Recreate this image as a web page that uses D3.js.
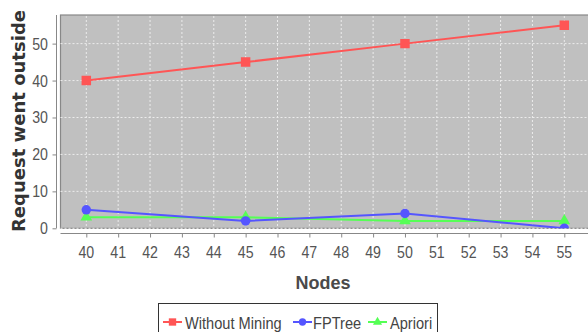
<!DOCTYPE html>
<html>
<head>
  <meta charset="utf-8">
  <title>Request went outside</title>
  <script src="https://d3js.org/d3.v7.min.js"></script>
  <style>
  body { margin: 0; background: white; }
  svg { display: block; }
  </style>
</head>
<body>
  <div id='container'></div>
  <script>

  var nodes = [40, 45, 50, 55]
  var withoutMining = [40, 45, 50, 55]
  var fpTree = [5, 2, 4, 0]
  var apriori = [3, 3, 2, 2]
  var xTicks = d3.range(40, 56)
  var yTicks = [0, 10, 20, 30, 40, 50]
  var seriesNames = ['Without Mining', 'FPTree', 'Apriori']

  const width = 588
  const height = 332

  // plot box (runs off the right edge like the reference)
  const plotLeft = 60.5, plotTop = 15, plotBottom = 228.3, plotRight = 600

  var svg = d3.select('#container')
    .append('svg')
    .attr('width', width)
    .attr('height', height)

  var x = d3.scaleLinear().domain([40, 55]).range([86.3, 564.3])
  var y = d3.scaleLinear().domain([0, 57.75]).range([plotBottom, plotTop])

  var series = [
    {name: seriesNames[0], values: withoutMining, color: '#ff5555', shape: d3.symbolSquare, size: 90},
    {name: seriesNames[1], values: fpTree, color: '#5555ff', shape: d3.symbolCircle, size: 70},
    {name: seriesNames[2], values: apriori, color: '#55ff55', shape: d3.symbolTriangle, size: 60}
  ]

  // squashed text helper, the picture is narrower than the fonts
  function label(parent, tx, ty, str, opts){
    var g = parent.append('g').attr('transform', 'translate(' + tx + ',' + ty + ')')
    return g.append('text')
      .attr('transform', 'scale(' + (opts.sx || 1) + ',1)')
      .attr('text-anchor', opts.anchor || 'start')
      .style('font-family', opts.font || 'Liberation Sans, Arial, sans-serif')
      .style('font-size', opts.size + 'px')
      .style('font-weight', opts.weight || 'normal')
      .style('fill', opts.color || '#555')
      .text(str)
  }

  // plot background
  svg.append('rect')
    .attr('x', plotLeft).attr('y', plotTop)
    .attr('width', plotRight - plotLeft).attr('height', plotBottom - plotTop)
    .style('fill', '#c0c0c0')
    .style('stroke', '#888')
    .style('stroke-width', 1.2)

  var clip = svg.append('clipPath').attr('id', 'plotClip')
    .append('rect')
    .attr('x', plotLeft).attr('y', plotTop)
    .attr('width', plotRight - plotLeft).attr('height', plotBottom - plotTop)

  // grid
  svg.append('g').selectAll('line')
    .data(xTicks)
    .enter().append('line')
    .attr('x1', (d) => x(d)).attr('x2', (d) => x(d))
    .attr('y1', plotTop + 1).attr('y2', plotBottom)
    .style('stroke', '#ececec')
    .style('stroke-width', 1)
    .style('stroke-dasharray', '2,2')

  svg.append('g').selectAll('line')
    .data(yTicks)
    .enter().append('line')
    .attr('x1', plotLeft).attr('x2', plotRight)
    .attr('y1', (d) => y(d)).attr('y2', (d) => y(d))
    .style('stroke', '#ececec')
    .style('stroke-width', 1)
    .style('stroke-dasharray', '2,2')

  // axes, offset from the plot like JFreeChart
  var xAxis = d3.axisBottom(x).tickValues(xTicks).tickSize(4).tickFormat('')
  var yAxis = d3.axisLeft(y).tickValues(yTicks).tickSize(4).tickFormat('')

  var gx = svg.append('g').attr('transform', 'translate(0,233.5)').call(xAxis)
  gx.select('.domain').attr('d', 'M' + plotLeft + ',0H' + plotRight)
  var gy = svg.append('g').attr('transform', 'translate(56.5,0)').call(yAxis)
  gy.select('.domain').attr('d', 'M0,' + plotTop + 'V' + plotBottom)
  svg.selectAll('.domain, .tick line').style('stroke', '#888')

  xTicks.forEach(function(t){
    label(svg, x(t), 258, t, {size: 16.5, sx: 0.86, anchor: 'middle', color: '#555'})
  })
  yTicks.forEach(function(t){
    label(svg, 48, y(t) + 6, t, {size: 16.5, sx: 0.86, anchor: 'end', color: '#555'})
  })

  // axis titles
  label(svg, 323, 288.5, 'Nodes', {size: 18, weight: 'bold', anchor: 'middle', color: '#4a4a4a'})

  svg.append('text')
    .attr('transform', 'translate(24.5,121) rotate(-90)')
    .attr('text-anchor', 'middle')
    .attr('textLength', 222)
    .attr('lengthAdjust', 'spacingAndGlyphs')
    .style('font-family', 'DejaVu Sans, sans-serif')
    .style('font-size', '17px')
    .style('font-weight', 'bold')
    .style('fill', '#333')
    .text('Request went outside')

  // series, drawn in reverse order
  var plot = svg.append('g').attr('clip-path', 'url(#plotClip)')
  var line = d3.line().x((d, i) => x(nodes[i])).y((d) => y(d))

  series.slice().reverse().forEach(function(s){
    plot.append('path')
      .attr('d', line(s.values))
      .style('fill', 'none')
      .style('stroke', s.color)
      .style('stroke-width', 2)
    plot.selectAll(null)
      .data(s.values)
      .enter().append('path')
      .attr('transform', (d, i) => 'translate(' + x(nodes[i]) + ',' + y(d) + ')')
      .attr('d', d3.symbol().type(s.shape).size(s.size))
      .style('fill', s.color)
  })

  // legend
  svg.append('rect')
    .attr('x', 158.5).attr('y', 303.5)
    .attr('width', 279).attr('height', 40)
    .style('fill', 'white')
    .style('stroke', '#333')

  var legendX = [163, 293, 368]
  var legendTextX = [185, 313, 390]
  series.forEach(function(s, i){
    svg.append('line')
      .attr('x1', legendX[i]).attr('x2', legendX[i] + 19)
      .attr('y1', 322).attr('y2', 322)
      .style('stroke', s.color)
      .style('stroke-width', 2)
    svg.append('path')
      .attr('transform', 'translate(' + (legendX[i] + 9.5) + ',322)')
      .attr('d', d3.symbol().type(s.shape).size(s.size * 0.6))
      .style('fill', s.color)
    label(svg, legendTextX[i], 329, s.name, {size: 17, sx: 0.86, color: '#444'})
  })

  </script>
</body>
</html>
